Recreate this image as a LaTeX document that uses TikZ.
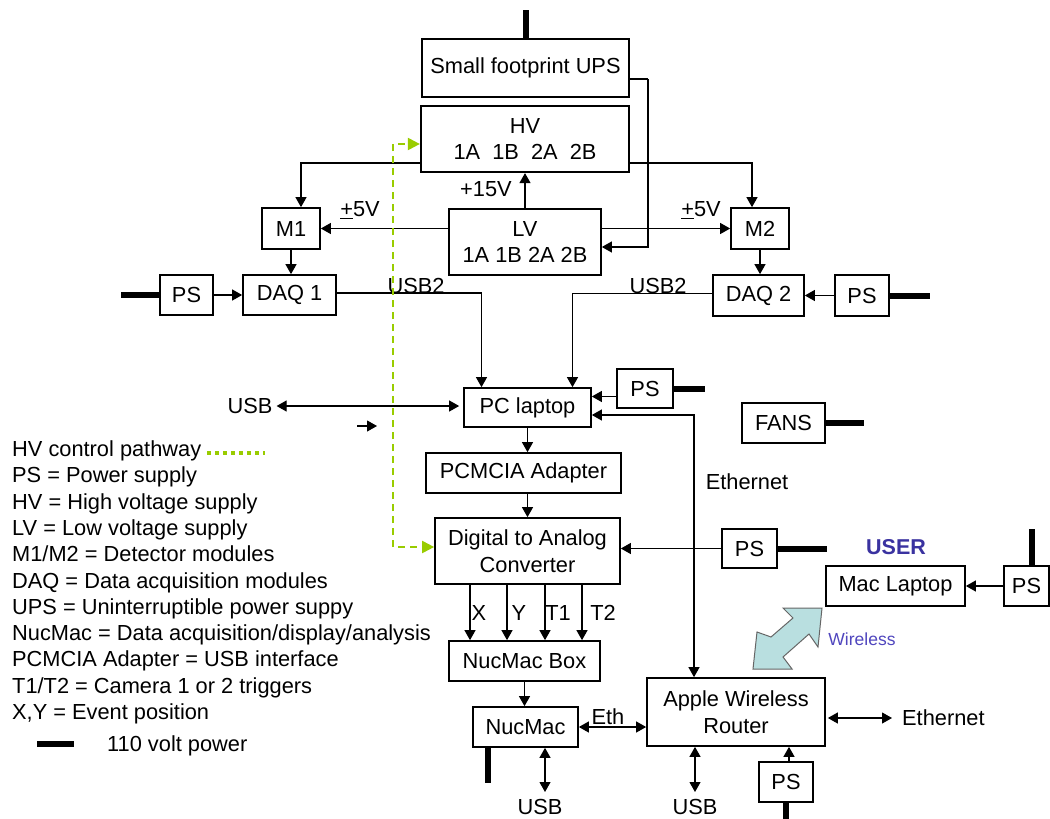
\documentclass[tikz,border=0pt]{standalone}
\usepackage{fontspec}
\setmainfont{Liberation Sans}
\usetikzlibrary{arrows.meta}
\definecolor{hvgreen}{RGB}{153,204,0}
\definecolor{userblue}{RGB}{58,50,160}
\definecolor{wlblue}{RGB}{80,70,190}
\definecolor{wlfill}{RGB}{185,223,224}
\begin{document}
\begin{tikzpicture}[x=1pt,y=-1pt,
  every node/.style={font=\fontsize{21.8}{26.5}\selectfont},
  box/.style={draw, line width=1.7pt, inner sep=0pt, align=center},
  conn/.style={line width=1.1pt},
  arr/.style={conn, -{Triangle[length=10pt,width=11pt]}},
  darr/.style={conn, {Triangle[length=10pt,width=11pt]}-{Triangle[length=10pt,width=11pt]}},
  garr/.style={hvgreen, line width=2pt, dash pattern=on 7pt off 5pt, -{Triangle[length=12pt,width=12pt]}},
  pw/.style={line width=6pt},
  lbl/.style={inner sep=0pt},
  leg/.style={anchor=base west, inner sep=0pt}]
\useasboundingbox[fill=white] (0,0) rectangle (1050,819);

% ---------- boxes ----------
\node[box, minimum width=207pt, minimum height=58pt] (ups) at (525.5,68) {Small footprint UPS};
\node[box, line width=2.2pt, minimum width=208pt, minimum height=66pt] (hv) at (525,139) {HV\\1A\ \ 1B\ \ 2A\ \ 2B};
\node[box, minimum width=152pt, minimum height=66pt] (lv) at (525,242) {LV\\1A 1B 2A 2B};
\node[box, minimum width=58pt, minimum height=41pt] (m1) at (291,228.5) {M1};
\node[box, minimum width=58pt, minimum height=41pt] (m2) at (760,228.5) {M2};
\node[box, minimum width=93pt, minimum height=40pt] (daq1) at (289.5,295) {DAQ 1};
\node[box, minimum width=53pt, minimum height=40pt] (ps1) at (186.5,295) {PS};
\node[box, minimum width=91pt, minimum height=41pt] (daq2) at (758.5,295.5) {DAQ 2};
\node[box, minimum width=54pt, minimum height=41pt] (ps2) at (862,295.5) {PS};
\node[box, minimum width=127pt, minimum height=39pt] (pc) at (527.5,407.5) {PC laptop};
\node[box, minimum width=56pt, minimum height=39pt] (pspc) at (645,388.5) {PS};
\node[box, minimum width=83pt, minimum height=40pt] (fans) at (783.5,423) {FANS};
\node[box, minimum width=195pt, minimum height=40pt] (pcmcia) at (523.5,473) {PCMCIA Adapter};
\node[box, minimum width=185pt, minimum height=66pt] (dac) at (527.5,551) {Digital to Analog\\Converter};
\node[box, minimum width=55pt, minimum height=39pt] (psdac) at (749.5,548.5) {PS};
\node[box, minimum width=151pt, minimum height=40pt] (nmbox) at (524.5,661) {NucMac Box};
\node[box, minimum width=105pt, minimum height=40pt] (nucmac) at (525.5,727) {NucMac};
\node[box, minimum width=178pt, minimum height=68pt] (router) at (736,712) {Apple Wireless\\Router};
\node[box, minimum width=54pt, minimum height=40pt] (psr) at (786,782) {PS};
\node[box, minimum width=139pt, minimum height=40pt] (mac) at (895.5,586) {Mac Laptop};
\node[box, minimum width=45pt, minimum height=40pt] (psmac) at (1026.5,586) {PS};

% ---------- labels ----------
\node[lbl] (v15) at (486,189) {+15V};
\node[lbl] (pm1) at (360,210) {\underline{+}5V};
\node[lbl] (pm2) at (701,210) {\underline{+}5V};
\node[lbl] (usb2a) at (416,286) {USB2};
\node[lbl] (usb2b) at (658,286) {USB2};
\node[lbl] (usbl) at (250,406) {USB};
\node[lbl] (ethl) at (747,482) {Ethernet};
\node[lbl] (ethn) at (608,717) {Eth};
\node[lbl] (lx) at (479,613) {X};
\node[lbl] (ly) at (519,613) {Y};
\node[lbl] (lt1) at (558,613) {T1};
\node[lbl] (lt2) at (603,613) {T2};
\node[lbl] (usbn) at (540,807) {USB};
\node[lbl] (usbr) at (695,807) {USB};
\node[lbl, anchor=west] (ethr) at (902,718) {Ethernet};
\node[lbl, text=userblue, font=\fontsize{21.5}{25}\selectfont\bfseries] (user) at (896,547) {USER};
\node[lbl, text=wlblue, font=\fontsize{17.5}{20}\selectfont] (wl) at (862,639) {Wireless};

% ---------- legend ----------
\node[leg] (leg1) at (12,456.5) {HV control pathway};
\node[leg] (leg2) at (12,482.8) {PS = Power supply};
\node[leg] (leg3) at (12,509.1) {HV = High voltage supply};
\node[leg] (leg4) at (12,535.4) {LV = Low voltage supply};
\node[leg] (leg5) at (12,561.7) {M1/M2 = Detector modules};
\node[leg] (leg6) at (12,588) {DAQ = Data acquisition modules};
\node[leg] (leg7) at (12,614.3) {UPS = Uninterruptible power suppy};
\node[leg] (leg8) at (12,640.6) {NucMac = Data acquisition/display/analysis};
\node[leg] (leg9) at (12,666.9) {PCMCIA Adapter = USB interface};
\node[leg] (leg10) at (12,693.2) {T1/T2 = Camera 1 or 2 triggers};
\node[leg] (leg11) at (12,719.5) {X,Y = Event position};
\node[leg] (leg12) at (107,751.5) {110 volt power};
\coordinate (gd1) at (207,453);
\coordinate (gd2) at (265,453);
\draw[hvgreen, line width=4pt, dash pattern=on 4pt off 4pt] (gd1) -- (gd2);
\coordinate (pl1) at (37,744);
\coordinate (pl2) at (74,744);
\draw[pw] (pl1) -- (pl2);

% ---------- power lines ----------
\draw[pw] (ups.north) -- ++(0,-28);
\draw[pw] (ps1.west) -- ++(-38,0);
\draw[pw] (ps2.east) -- ++(40,0);
\draw[pw] (pspc.east) -- ++(31,0);
\draw[pw] (fans.east) -- ++(38,0);
\draw[pw] (psdac.east) -- ++(49,0);
\draw[pw] ([xshift=5.5pt]psmac.north) -- ++(0,-36);
\draw[pw] (psr.south) -- ++(0,20);
\draw[pw] ([xshift=-37.5pt]nucmac.south) -- ++(0,35);

% ---------- connectors ----------
\coordinate (upsr) at (648,79);
\draw[conn] ([yshift=-11pt]ups.east) -- (upsr);
\draw[arr] (upsr) |- ([yshift=-5pt]lv.east);
\draw[arr] ([yshift=-24pt]hv.west) -| ([xshift=10pt]m1.north);
\draw[arr] ([yshift=-24pt]hv.east) -| ([xshift=-8pt]m2.north);
\draw[arr] (lv.north) -- (hv.south);
\draw[arr] (lv.west |- m1.east) -- (m1.east);
\draw[arr] (lv.east |- m2.west) -- (m2.west);
\draw[arr] (m1.south) -- (m1.south |- daq1.north);
\draw[arr] (m2.south) -- (m2.south |- daq2.north);
\draw[arr] (ps1.east) -- (daq1.west);
\draw[arr] (ps2.west) -- (daq2.east);
\draw[arr] ([yshift=2pt]daq1.east) -| ([xshift=-46pt]pc.north);
\draw[arr] ([yshift=2pt]daq2.west) -| ([xshift=45pt]pc.north);
\draw[arr] ([yshift=-8pt]pspc.west) -- ([yshift=-8pt]pspc.west -| pc.east);
\draw[darr] ([yshift=-7.5pt]pc.east) -| ([xshift=-42pt]router.north);
\draw[darr] ([xshift=4pt]usbl.east) -- ([xshift=-4pt]pc.west |- usbl.east);
\coordinate (sa1) at (357,426);
\coordinate (sa2) at (377,426);
\draw[arr] (sa1) -- (sa2);
\draw[arr] (pc.south) -- (pc.south |- pcmcia.north);
\draw[arr] (dac.north |- pcmcia.south) -- (dac.north);
\draw[arr] (psdac.west) -- (psdac.west -| dac.east);
\foreach \dx in {-57.5,-20.5,17.5,54.5}
  \draw[arr] ([xshift=\dx pt]dac.south) -- ([xshift=\dx pt]dac.south |- nmbox.north);
\draw[arr] (nmbox.south) -- (nmbox.south |- nucmac.north);
\draw[darr] (nucmac.east) -- (router.west |- nucmac.east);
\coordinate (un) at (545,792);
\draw[darr] (un |- nucmac.south) -- (un);
\coordinate (ur) at (695,792);
\draw[darr] (ur |- router.south) -- (ur);
\draw[arr] ([xshift=3pt]psr.north) -- ([xshift=3pt]psr.north |- router.south);
\draw[darr] ([xshift=2pt]router.east |- ethr.west) -- ([xshift=-10pt]ethr.west);
\draw[arr] (psmac.west) -- (mac.east);

% ---------- HV control pathway ----------
\coordinate (gtop) at (393,144);
\coordinate (gbot) at (393,547);
\draw[garr] (gbot) |- (hv.west |- gtop);
\draw[garr] (gtop) |- (dac.west |- gbot);

% ---------- wireless ----------
\draw[fill=wlfill, draw=black!60, line width=1pt]
  (822,608) -- (783,608) -- (793,618) -- (771,637) -- (757,632) -- (753,669)
  -- (792,669) -- (783,657) -- (809,634) -- (818,647) -- cycle;
\end{tikzpicture}
\end{document}
